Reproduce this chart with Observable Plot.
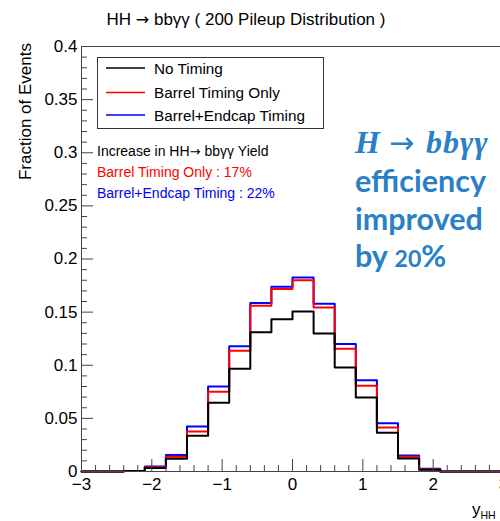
<!DOCTYPE html>
<html>
<head>
<meta charset="utf-8">
<script src="https://cdn.jsdelivr.net/npm/d3@7"></script>
<script src="https://cdn.jsdelivr.net/npm/@observablehq/plot@0.6"></script>
<style>
  html, body { margin: 0; padding: 0; background: #fff; overflow: hidden; }
  #wrap { position: relative; width: 500px; height: 521px; overflow: hidden; }
  #wrap > svg { position: absolute; left: 0; top: 0; }
</style>
</head>
<body>
<div id="wrap"></div>
<script>
// ---- data ----
const binLowEdges = [-3, -2.7, -2.4, -2.1, -1.8, -1.5, -1.2, -0.9, -0.6, -0.3, 0, 0.3, 0.6, 0.9, 1.2, 1.5, 1.8, 2.1, 2.4, 2.7];
const binUpperEnd = 3;
const noTiming      = [0, 0, 0.0005, 0.0032, 0.0120, 0.0336, 0.0647, 0.0967, 0.1310, 0.1434, 0.1506, 0.1300, 0.0980, 0.0697, 0.0364, 0.0122, 0.0016, 0, 0, 0];
const barrelOnly    = [0, 0, 0.0005, 0.0040, 0.0138, 0.0377, 0.0750, 0.1136, 0.1560, 0.1717, 0.1800, 0.1544, 0.1155, 0.0807, 0.0414, 0.0138, 0.0020, 0, 0, 0];
const barrelEndcap  = [0, 0, 0.0005, 0.0047, 0.0155, 0.0424, 0.0800, 0.1180, 0.1585, 0.1740, 0.1826, 0.1580, 0.1200, 0.0860, 0.0455, 0.0150, 0.0025, 0, 0, 0];
const seriesNames   = ["No Timing", "Barrel Timing Only", "Barrel+Endcap Timing"];
const seriesColors  = ["#000000", "#ff0000", "#0000ff"];
const xTickLabels   = [-3, -2, -1, 0, 1, 2, 3];
const yTickLabels   = [0, 0.05, 0.1, 0.15, 0.2, 0.25, 0.3, 0.35, 0.4];
const titleParts    = ["HH ", "\u2192", " bb\u03b3\u03b3 ( 200 Pileup Distribution )"];
const yLabelText    = "Fraction of Events";
const yieldFirst    = ["Increase in HH", "\u2192", " bb\u03b3\u03b3 Yield"];
const yieldLines    = ["Barrel Timing Only : 17%", "Barrel+Endcap Timing : 22%"];
const yieldColors   = ["#000000", "#ff0000", "#0000ff"];
const calloutHead   = ["H", "\u2192", "bb\u03b3\u03b3"];
const calloutLines  = ["efficiency", "improved"];
const calloutLast   = ["by ", "20", "%"];

// ---- build step rows ----
function steps(vals) {
  const pts = binLowEdges.map((e, i) => ({x: e, y: vals[i]}));
  pts.push({x: binUpperEnd, y: vals[vals.length - 1]});
  return pts;
}
const xMinor = d3.range(-3, 3.0001, 0.2).map(v => +v.toFixed(2)).filter(v => !xTickLabels.some(t => Math.abs(t - v) < 1e-6));
const yMinor = d3.range(0, 0.4001, 0.01).map(v => +v.toFixed(3)).filter(v => !yTickLabels.some(t => Math.abs(t - v) < 1e-6));
const fmtX = d => d < 0 ? "\u2212" + Math.abs(d) : String(d);

const font = "'Liberation Sans', Arial, Helvetica, sans-serif";
const chart = Plot.plot({
  width: 500,
  height: 521,
  marginTop: 46,
  marginBottom: 50,
  marginLeft: 81,
  marginRight: -3,
  x: {domain: [-3, 3], label: null},
  y: {domain: [0, 0.4], label: null},
  style: {fontFamily: font, fontSize: "17px", color: "#000", background: "transparent", overflow: "visible"},
  marks: [
    Plot.line(steps(barrelEndcap), {x: "x", y: "y", curve: "step-after", stroke: seriesColors[2], strokeWidth: 2}),
    Plot.line(steps(barrelOnly), {x: "x", y: "y", curve: "step-after", stroke: seriesColors[1], strokeWidth: 2}),
    Plot.line(steps(noTiming), {x: "x", y: "y", curve: "step-after", stroke: seriesColors[0], strokeWidth: 2}),
    Plot.axisX({ticks: xTickLabels, tickSize: 0, tickPadding: 6, tickFormat: fmtX, fontSize: 17, label: null}),
    Plot.axisX({ticks: xTickLabels, tickSize: -12, tickFormat: () => "", label: null, stroke: "#444"}),
    Plot.axisX({ticks: xMinor, tickSize: -6, tickFormat: () => "", label: null, stroke: "#444"}),
    Plot.axisY({ticks: yTickLabels, tickSize: 0, tickPadding: 4, tickFormat: d => String(d), fontSize: 17, label: null}),
    Plot.axisY({ticks: yTickLabels, tickSize: -12, tickFormat: () => "", label: null, stroke: "#444"}),
    Plot.axisY({ticks: yMinor, tickSize: -6, tickFormat: () => "", label: null, stroke: "#444"}),
    Plot.frame({stroke: "#444", strokeWidth: 1})
  ]
});
document.getElementById("wrap").appendChild(chart);

// ---- overlay texts ----
const ov = d3.select("#wrap").append("svg")
  .attr("width", 500).attr("height", 521)
  .style("pointer-events", "none")
  .style("font-family", font);

const tt = ov.append("text").attr("x", 246).attr("y", 25).attr("text-anchor", "middle").attr("font-size", 17);
tt.append("tspan").text(titleParts[0]);
tt.append("tspan").attr("font-family", "'DejaVu Sans', sans-serif").attr("font-size", 16).text(titleParts[1]);
tt.append("tspan").text(titleParts[2]);

ov.append("text").attr("transform", "translate(31,43) rotate(-90)")
  .attr("text-anchor", "end").attr("font-size", 17).text(yLabelText);

const xl = ov.append("text").attr("x", 472).attr("y", 515).attr("font-size", 17);
xl.append("tspan").text("y");
xl.append("tspan").attr("font-size", 10.5).attr("dy", 4).text("HH");

// legend
const lg = ov.append("g");
lg.append("rect").attr("x", 97.5).attr("y", 57.5).attr("width", 226).attr("height", 71)
  .attr("fill", "#fff").attr("stroke", "#333").attr("stroke-width", 1);
const rowY = [68, 92.5, 115];
seriesNames.forEach((name, i) => {
  lg.append("line").attr("x1", 106).attr("x2", 145).attr("y1", rowY[i]).attr("y2", rowY[i])
    .attr("stroke", seriesColors[i]).attr("stroke-width", 1.5);
  lg.append("text").attr("x", 154).attr("y", rowY[i] + 5.5).attr("font-size", 15.3).text(name);
});

// yield annotation
const yBase = [156, 177, 198];
const y0 = ov.append("text").attr("x", 97).attr("y", yBase[0]).attr("font-size", 14).attr("fill", yieldColors[0]);
y0.append("tspan").text(yieldFirst[0]);
y0.append("tspan").attr("font-family", "'DejaVu Sans', sans-serif").attr("font-size", 13).text(yieldFirst[1]);
y0.append("tspan").text(yieldFirst[2]);
yieldLines.forEach((t, i) => {
  ov.append("text").attr("x", 97).attr("y", yBase[i + 1]).attr("font-size", 14)
    .attr("fill", yieldColors[i + 1]).text(t);
});

// callout
const blue = "#2a80c6";
const hd = ov.append("text").attr("x", 355).attr("y", 153)
  .attr("font-family", "'Liberation Serif', 'DejaVu Serif', serif")
  .attr("font-style", "italic").attr("font-weight", "bold")
  .attr("font-size", 32).attr("fill", blue);
hd.append("tspan").text(calloutHead[0]);
hd.append("tspan").attr("dx", 9).attr("font-style", "normal").attr("font-weight", "normal")
  .attr("font-family", "'DejaVu Sans', sans-serif").attr("font-size", 30).text(calloutHead[1]);
hd.append("tspan").attr("dx", 12).attr("letter-spacing", 1).text(calloutHead[2]);

const cBase = [191.5, 229.5, 266.5];
const lato = "Lato, 'Open Sans', sans-serif";
calloutLines.forEach((t, i) => {
  ov.append("text").attr("x", 355).attr("y", cBase[i])
    .attr("font-family", lato).attr("font-weight", "bold")
    .attr("font-size", 30.5).attr("fill", blue).text(t);
});
const last = ov.append("text").attr("x", 355).attr("y", cBase[2])
  .attr("font-family", lato).attr("font-weight", "bold")
  .attr("font-size", 30.5).attr("fill", blue);
last.append("tspan").text(calloutLast[0]);
last.append("tspan").attr("font-size", 23).text(calloutLast[1]);
last.append("tspan").text(calloutLast[2]);
</script>
</body>
</html>
